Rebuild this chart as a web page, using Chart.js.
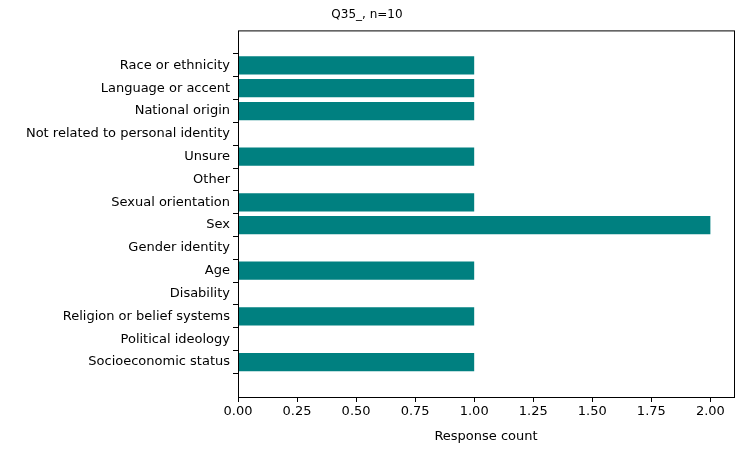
<!DOCTYPE html>
<html>
<head>
<meta charset="utf-8">
<script src="https://cdn.jsdelivr.net/npm/chart.js@4"></script>
<style>
  body { margin: 0; background: #fff; }
  #wrap { width: 744px; height: 452px; }
</style>
</head>
<body>
<div id="wrap"><canvas id="chart"></canvas></div>
<script>
const categories = [
  'Race or ethnicity', 'Language or accent', 'National origin',
  'Not related to personal identity', 'Unsure', 'Other', 'Sexual orientation',
  'Sex', 'Gender identity', 'Age', 'Disability', 'Religion or belief systems',
  'Political ideology', 'Socioeconomic status'
];
const counts = [1, 1, 1, 0, 1, 0, 1, 2, 0, 1, 0, 1, 0, 1];
const xTicks = [0, 0.25, 0.5, 0.75, 1, 1.25, 1.5, 1.75, 2];

Chart.defaults.font.family = "'DejaVu Sans', sans-serif";
Chart.defaults.font.size = 13;
Chart.defaults.color = '#000';

const frame = {
  id: 'frame',
  afterDraw(chart) {
    const { ctx, chartArea: a } = chart;
    ctx.save();
    ctx.strokeStyle = '#000';
    ctx.lineWidth = 1;
    ctx.strokeRect(a.left + 0.5, a.top + 0.5, a.right - a.left, a.bottom - a.top);
    ctx.restore();
  }
};

new Chart(document.getElementById('chart'), {
  type: 'bar',
  data: {
    datasets: [{
      data: counts.map((v, i) => ({ x: v, y: i })),
      backgroundColor: '#008080',
      barPercentage: 0.8,
      categoryPercentage: 1
    }]
  },
  plugins: [frame],
  options: {
    indexAxis: 'y',
    responsive: true,
    maintainAspectRatio: false,
    animation: false,
    layout: { padding: { top: 4, right: 10, left: 0, bottom: 0 } },
    plugins: {
      legend: { display: false },
      tooltip: { enabled: false },
      title: { display: true, text: 'Q35_, n=10', font: { size: 12, weight: 'normal' }, padding: { top: 4, bottom: 8 } }
    },
    scales: {
      x: {
        type: 'linear', min: 0, max: 2.1,
        afterBuildTicks: (s) => { s.ticks = xTicks.map(v => ({ value: v })); },
        ticks: { callback: (v) => Number(v).toFixed(2), maxRotation: 0, padding: 2 },
        grid: { drawOnChartArea: false, drawTicks: true, tickLength: 5, color: '#000' },
        border: { display: false },
        title: { display: true, text: 'Response count', padding: { top: 2, bottom: 8 } },
        afterFit: (s) => { s.height = 55; }
      },
      y: {
        type: 'linear', min: -0.96, max: 13.96, reverse: true,
        afterBuildTicks: (s) => { s.ticks = categories.map((c, i) => ({ value: i })); },
        ticks: { callback: (v) => categories[v], padding: 3 },
        grid: { drawOnChartArea: false, drawTicks: true, tickLength: 5, color: '#000' },
        border: { display: false },
        afterFit: (s) => { s.width = 238; }
      }
    }
  }
});
</script>
</body>
</html>
